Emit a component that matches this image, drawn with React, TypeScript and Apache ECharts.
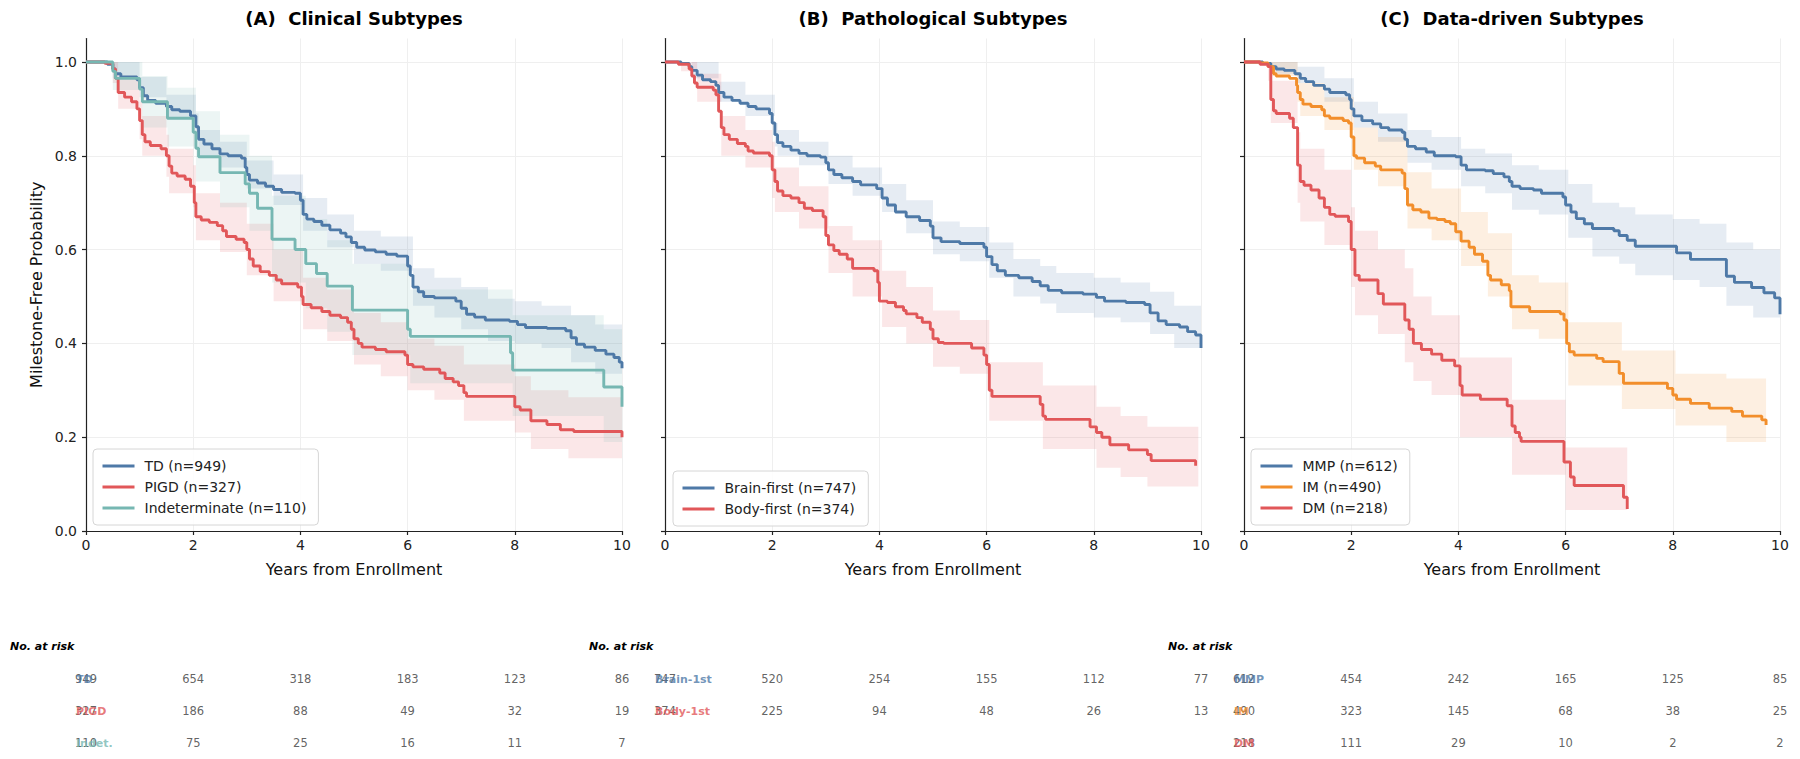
import React, { useEffect, useRef } from "react";
import * as echarts from "echarts";

const FONT = "'DejaVu Sans', 'Liberation Sans', sans-serif";
const BLUE = "#4e79a7";
const RED = "#e15759";
const TEAL = "#76b7b2";
const ORANGE = "#f28e2b";

const panelTitles = ["(A)  Clinical Subtypes", "(B)  Pathological Subtypes", "(C)  Data-driven Subtypes"];
const yTicks = [0, 0.2, 0.4, 0.6, 0.8, 1.0];
const riskTimes = [0, 2, 4, 6, 8, 10];

// ---- Panel A: clinical subtypes ----
const tdCurve = [[0,1],[0.4,0.995],[0.5,0.985],[0.55,0.975],[0.65,0.968],[0.95,0.962],[1.0,0.945],[1.07,0.928],[1.15,0.918],[1.3,0.912],[1.5,0.905],[1.6,0.898],[1.75,0.895],[1.95,0.885],[2.05,0.862],[2.1,0.835],[2.2,0.825],[2.35,0.815],[2.5,0.804],[2.65,0.8],[2.9,0.795],[2.97,0.775],[3.0,0.76],[3.05,0.748],[3.2,0.742],[3.35,0.735],[3.5,0.728],[3.65,0.722],[3.9,0.72],[4.0,0.705],[4.05,0.675],[4.12,0.665],[4.25,0.66],[4.4,0.652],[4.55,0.642],[4.75,0.635],[4.85,0.627],[4.95,0.615],[5.05,0.605],[5.2,0.599],[5.4,0.595],[5.6,0.59],[5.8,0.586],[6.0,0.565],[6.05,0.545],[6.1,0.52],[6.2,0.51],[6.3,0.5],[6.5,0.497],[6.9,0.49],[7.0,0.475],[7.1,0.462],[7.25,0.456],[7.45,0.45],[7.9,0.447],[8.05,0.44],[8.2,0.434],[8.6,0.432],[8.95,0.427],[9.05,0.412],[9.15,0.398],[9.3,0.392],[9.5,0.385],[9.7,0.377],[9.85,0.37],[9.95,0.36],[10,0.347]];
const tdCI = [[0,1,1],[0.5,0.965,1.0],[1.0,0.925,0.968],[1.5,0.878,0.93],[2.05,0.835,0.89],[2.1,0.8,0.855],[2.5,0.775,0.83],[3.0,0.73,0.79],[3.5,0.695,0.76],[4.05,0.64,0.71],[4.5,0.605,0.675],[5.0,0.57,0.64],[5.5,0.555,0.628],[6.1,0.48,0.56],[6.5,0.455,0.54],[7.0,0.43,0.52],[7.5,0.405,0.495],[8.0,0.4,0.49],[8.5,0.39,0.48],[9.05,0.36,0.46],[9.5,0.335,0.44],[10,0.3,0.41]];
const tdRisk = [949, 654, 318, 183, 123, 86];

const pigdCurve = [[0,1],[0.35,0.997],[0.5,0.985],[0.55,0.965],[0.6,0.935],[0.72,0.925],[0.85,0.915],[0.95,0.9],[1.0,0.875],[1.05,0.845],[1.1,0.83],[1.2,0.822],[1.4,0.815],[1.5,0.8],[1.55,0.778],[1.6,0.763],[1.7,0.757],[1.85,0.75],[1.95,0.735],[2.02,0.7],[2.05,0.67],[2.15,0.663],[2.3,0.658],[2.45,0.651],[2.55,0.64],[2.62,0.628],[2.8,0.622],[2.95,0.615],[3.0,0.6],[3.05,0.58],[3.12,0.565],[3.25,0.553],[3.42,0.545],[3.55,0.535],[3.65,0.527],[3.95,0.52],[4.02,0.5],[4.05,0.483],[4.2,0.476],[4.4,0.468],[4.55,0.46],[4.75,0.455],[4.88,0.445],[4.95,0.43],[5.0,0.41],[5.08,0.4],[5.15,0.392],[5.4,0.387],[5.6,0.382],[5.95,0.375],[6.0,0.355],[6.1,0.35],[6.3,0.345],[6.6,0.337],[6.7,0.325],[6.85,0.318],[6.95,0.31],[7.05,0.295],[7.1,0.287],[8.0,0.265],[8.1,0.258],[8.3,0.235],[8.6,0.227],[8.85,0.216],[9.1,0.212],[9.98,0.212],[10,0.2]];
const pigdCI = [[0,1,1],[0.5,0.955,1.0],[0.6,0.9,0.965],[1.0,0.835,0.915],[1.05,0.8,0.885],[1.5,0.755,0.845],[1.55,0.72,0.815],[2.0,0.69,0.78],[2.05,0.62,0.72],[2.5,0.595,0.7],[3.0,0.545,0.655],[3.5,0.49,0.6],[4.05,0.43,0.54],[4.5,0.405,0.515],[5.0,0.355,0.465],[5.5,0.33,0.445],[6.0,0.3,0.41],[6.5,0.28,0.395],[7.05,0.235,0.355],[8.0,0.21,0.33],[8.3,0.175,0.3],[9.0,0.155,0.285],[10,0.14,0.28]];
const pigdRisk = [327, 186, 88, 49, 32, 19];

const indetCurve = [[0,1],[0.5,0.98],[0.55,0.965],[1.0,0.942],[1.05,0.915],[1.52,0.88],[2.0,0.85],[2.05,0.816],[2.1,0.798],[2.5,0.764],[2.97,0.74],[3.05,0.72],[3.2,0.688],[3.47,0.622],[3.9,0.6],[4.1,0.57],[4.3,0.549],[4.5,0.522],[4.97,0.471],[6.0,0.43],[6.05,0.415],[7.92,0.38],[7.96,0.343],[9.66,0.307],[10,0.265]];
const indetCI = [[0,1,1],[0.5,0.94,1.0],[1.05,0.86,0.97],[1.52,0.82,0.945],[2.05,0.745,0.895],[2.5,0.69,0.845],[3.05,0.64,0.8],[3.47,0.53,0.715],[4.1,0.475,0.665],[4.5,0.425,0.62],[4.97,0.375,0.57],[6.05,0.315,0.515],[7.96,0.245,0.46],[9.66,0.19,0.43],[10,0.17,0.4]];
const indetRisk = [110, 75, 25, 16, 11, 7];

// ---- Panel B: pathological subtypes ----
const brainCurve = [[0,1],[0.3,0.997],[0.45,0.99],[0.5,0.982],[0.6,0.972],[0.7,0.962],[0.85,0.958],[0.95,0.95],[1.0,0.935],[1.1,0.925],[1.25,0.918],[1.4,0.912],[1.55,0.905],[1.7,0.9],[1.95,0.89],[2.0,0.87],[2.05,0.845],[2.1,0.828],[2.2,0.82],[2.35,0.812],[2.5,0.805],[2.65,0.8],[2.9,0.797],[3.0,0.785],[3.05,0.77],[3.15,0.76],[3.3,0.753],[3.5,0.745],[3.65,0.738],[3.95,0.73],[4.05,0.71],[4.15,0.695],[4.3,0.68],[4.5,0.67],[4.75,0.662],[4.95,0.65],[5.0,0.625],[5.15,0.617],[5.5,0.613],[5.95,0.605],[6.0,0.585],[6.1,0.568],[6.2,0.555],[6.35,0.545],[6.6,0.54],[6.85,0.532],[7.0,0.523],[7.15,0.513],[7.4,0.508],[7.8,0.505],[8.05,0.498],[8.2,0.49],[8.6,0.487],[8.95,0.483],[9.05,0.465],[9.2,0.448],[9.35,0.44],[9.6,0.435],[9.75,0.425],[9.9,0.418],[10,0.39]];
const brainCI = [[0,1,1],[0.5,0.965,1.0],[1.0,0.915,0.958],[1.5,0.885,0.93],[2.05,0.82,0.87],[2.1,0.8,0.855],[2.5,0.78,0.83],[3.05,0.74,0.8],[3.5,0.715,0.775],[4.05,0.68,0.74],[4.5,0.635,0.705],[5.0,0.59,0.66],[5.5,0.575,0.648],[6.05,0.54,0.615],[6.5,0.5,0.58],[7.0,0.485,0.565],[7.3,0.465,0.55],[8.0,0.455,0.54],[8.5,0.445,0.53],[9.05,0.42,0.51],[9.5,0.39,0.48],[10,0.33,0.46]];
const brainRisk = [747, 520, 254, 155, 112, 77];

const bodyCurve = [[0,1],[0.25,0.995],[0.45,0.985],[0.5,0.97],[0.55,0.955],[0.6,0.946],[0.9,0.94],[0.95,0.93],[1.0,0.895],[1.05,0.86],[1.1,0.845],[1.2,0.835],[1.35,0.826],[1.5,0.82],[1.55,0.81],[1.65,0.806],[1.95,0.8],[2.0,0.77],[2.05,0.745],[2.1,0.725],[2.2,0.715],[2.35,0.71],[2.5,0.7],[2.6,0.688],[2.75,0.683],[2.95,0.67],[3.0,0.63],[3.05,0.61],[3.15,0.598],[3.25,0.59],[3.4,0.58],[3.5,0.56],[3.9,0.555],[3.97,0.53],[4.0,0.49],[4.15,0.487],[4.3,0.478],[4.45,0.47],[4.5,0.463],[4.7,0.455],[4.8,0.445],[4.95,0.43],[5.0,0.41],[5.1,0.402],[5.2,0.4],[5.72,0.39],[5.95,0.375],[6.0,0.355],[6.05,0.3],[6.1,0.287],[7.0,0.27],[7.05,0.245],[7.1,0.238],[7.93,0.222],[8.05,0.21],[8.15,0.2],[8.3,0.184],[8.65,0.173],[9.0,0.163],[9.07,0.15],[9.9,0.139]];
const bodyCI = [[0,1,1],[0.3,0.98,1.0],[0.6,0.915,0.975],[1.05,0.8,0.885],[1.5,0.775,0.855],[2.0,0.71,0.83],[2.05,0.68,0.775],[2.5,0.645,0.735],[3.05,0.55,0.65],[3.5,0.5,0.62],[4.05,0.435,0.555],[4.5,0.4,0.52],[5.0,0.35,0.47],[5.5,0.335,0.45],[6.05,0.235,0.36],[7.05,0.175,0.31],[8.05,0.135,0.265],[8.5,0.115,0.245],[9.0,0.095,0.222],[9.95,0.09,0.22]];
const bodyRisk = [374, 225, 94, 48, 26, 13];

// ---- Panel C: data-driven subtypes ----
const mmpCurve = [[0,1],[0.35,0.997],[0.5,0.99],[0.6,0.985],[0.75,0.982],[0.95,0.975],[1.05,0.965],[1.15,0.958],[1.3,0.95],[1.5,0.942],[1.6,0.935],[1.9,0.93],[1.97,0.92],[2.0,0.9],[2.05,0.885],[2.2,0.875],[2.4,0.868],[2.55,0.86],[2.7,0.855],[2.95,0.85],[3.0,0.835],[3.05,0.82],[3.2,0.815],[3.4,0.808],[3.55,0.8],[3.95,0.798],[4.05,0.78],[4.15,0.77],[4.5,0.768],[4.65,0.762],[4.85,0.755],[4.95,0.745],[5.0,0.735],[5.15,0.73],[5.4,0.727],[5.55,0.72],[5.95,0.712],[6.0,0.695],[6.1,0.68],[6.2,0.666],[6.35,0.655],[6.5,0.645],[6.9,0.64],[7.0,0.63],[7.15,0.62],[7.3,0.607],[8.07,0.593],[8.33,0.579],[9.0,0.543],[9.15,0.53],[9.47,0.519],[9.7,0.508],[9.9,0.497],[10,0.462]];
const mmpCI = [[0,1,1],[0.5,0.975,1.0],[1.0,0.955,0.99],[1.5,0.915,0.965],[2.05,0.86,0.915],[2.5,0.83,0.89],[3.05,0.785,0.855],[3.5,0.77,0.84],[4.05,0.735,0.815],[4.5,0.72,0.805],[5.0,0.685,0.78],[5.5,0.675,0.77],[6.05,0.625,0.74],[6.5,0.585,0.7],[7.0,0.57,0.69],[7.3,0.545,0.675],[8.0,0.535,0.665],[8.5,0.52,0.655],[9.0,0.48,0.615],[9.5,0.455,0.6],[10,0.41,0.575]];
const mmpRisk = [612, 454, 242, 165, 125, 85];

const imCurve = [[0,1],[0.3,0.998],[0.45,0.99],[0.55,0.975],[0.6,0.97],[0.85,0.965],[0.98,0.95],[1.0,0.935],[1.05,0.92],[1.1,0.91],[1.25,0.905],[1.45,0.898],[1.5,0.885],[1.6,0.88],[1.85,0.875],[1.95,0.87],[2.0,0.84],[2.05,0.8],[2.1,0.795],[2.25,0.785],[2.45,0.778],[2.55,0.77],[2.95,0.763],[3.0,0.73],[3.05,0.695],[3.15,0.685],[3.3,0.68],[3.45,0.667],[3.6,0.664],[3.75,0.66],[3.85,0.655],[3.95,0.638],[4.05,0.618],[4.2,0.605],[4.3,0.59],[4.45,0.575],[4.55,0.545],[4.6,0.535],[4.8,0.525],[4.95,0.512],[4.98,0.478],[5.33,0.468],[5.9,0.463],[5.97,0.45],[6.02,0.4],[6.07,0.382],[6.16,0.375],[6.58,0.368],[6.7,0.361],[7.0,0.336],[7.08,0.315],[7.9,0.304],[8.0,0.29],[8.07,0.281],[8.33,0.272],[8.68,0.262],[9.1,0.255],[9.3,0.245],[9.66,0.237],[9.74,0.226]];
const imCI = [[0,1,1],[0.5,0.97,1.0],[1.0,0.915,0.975],[1.05,0.885,0.955],[1.5,0.855,0.925],[2.05,0.77,0.86],[2.5,0.735,0.84],[3.05,0.645,0.765],[3.5,0.62,0.73],[4.05,0.565,0.68],[4.55,0.5,0.635],[5.0,0.43,0.545],[5.5,0.41,0.53],[6.05,0.31,0.445],[7.05,0.26,0.385],[8.05,0.225,0.335],[9.0,0.19,0.325],[9.74,0.165,0.31]];
const imRisk = [490, 323, 145, 68, 38, 25];

const dmCurve = [[0,1],[0.3,0.995],[0.45,0.99],[0.5,0.92],[0.55,0.896],[0.6,0.89],[0.85,0.88],[0.92,0.86],[1.0,0.78],[1.05,0.745],[1.12,0.737],[1.25,0.727],[1.4,0.71],[1.5,0.69],[1.6,0.675],[1.7,0.671],[1.95,0.66],[2.0,0.6],[2.07,0.545],[2.15,0.535],[2.5,0.506],[2.6,0.484],[3.0,0.45],[3.08,0.43],[3.16,0.4],[3.31,0.387],[3.5,0.377],[3.69,0.364],[3.93,0.352],[4.03,0.31],[4.07,0.29],[4.41,0.281],[4.91,0.267],[5.0,0.224],[5.06,0.21],[5.14,0.2],[5.17,0.191],[5.97,0.147],[6.09,0.115],[6.16,0.097],[7.08,0.072],[7.15,0.047]];
const dmCI = [[0,1,1],[0.45,0.96,1.0],[0.5,0.87,0.96],[1.0,0.7,0.85],[1.05,0.66,0.815],[1.5,0.61,0.77],[2.0,0.52,0.69],[2.07,0.46,0.64],[2.5,0.42,0.6],[3.0,0.36,0.56],[3.16,0.32,0.5],[3.5,0.29,0.46],[4.03,0.2,0.37],[5.0,0.12,0.28],[6.0,0.045,0.178],[7.15,0.026,0.155]];
const dmRisk = [218, 111, 29, 10, 2, 2];

const panels = [
  {
    title: panelTitles[0],
    groups: [
      { name: "TD (n=949)", short: "TD", color: BLUE, curve: tdCurve, ci: tdCI, risk: tdRisk },
      { name: "PIGD (n=327)", short: "PIGD", color: RED, curve: pigdCurve, ci: pigdCI, risk: pigdRisk },
      { name: "Indeterminate (n=110)", short: "Indet.", color: TEAL, curve: indetCurve, ci: indetCI, risk: indetRisk },
    ],
  },
  {
    title: panelTitles[1],
    groups: [
      { name: "Brain-first (n=747)", short: "Brain-1st", color: BLUE, curve: brainCurve, ci: brainCI, risk: brainRisk },
      { name: "Body-first (n=374)", short: "Body-1st", color: RED, curve: bodyCurve, ci: bodyCI, risk: bodyRisk },
    ],
  },
  {
    title: panelTitles[2],
    groups: [
      { name: "MMP (n=612)", short: "MMP", color: BLUE, curve: mmpCurve, ci: mmpCI, risk: mmpRisk },
      { name: "IM (n=490)", short: "IM", color: ORANGE, curve: imCurve, ci: imCI, risk: imRisk },
      { name: "DM (n=218)", short: "DM", color: RED, curve: dmCurve, ci: dmCI, risk: dmRisk },
    ],
  },
];

// layout
const PANEL_LEFT = [86, 665, 1244];
const PANEL_W = 536;
const PLOT_TOP = 38.5;
const PLOT_H = 492.5;
const RISK_TOP = 663;
const RISK_H = 96;
const LEGEND_POS = [
  { left: 93, top: 449 },
  { left: 673, top: 471 },
  { left: 1251, top: 449 },
];

function rgba(hex: string, a: number) {
  const n = parseInt(hex.slice(1), 16);
  return `rgba(${(n >> 16) & 255},${(n >> 8) & 255},${n & 255},${a})`;
}

function bandRenderer(ci: number[][], color: string) {
  return (params: any, api: any) => {
    if (params.dataIndex !== 0) return null;
    const pts: number[][] = [];
    for (let i = 0; i < ci.length; i++) {
      pts.push(api.coord([ci[i][0], ci[i][2]]));
      if (i < ci.length - 1) pts.push(api.coord([ci[i + 1][0], ci[i][2]]));
    }
    for (let i = ci.length - 1; i >= 0; i--) {
      if (i < ci.length - 1) pts.push(api.coord([ci[i + 1][0], ci[i][1]]));
      pts.push(api.coord([ci[i][0], ci[i][1]]));
    }
    return {
      type: "polygon",
      shape: { points: pts },
      style: { fill: rgba(color, 0.14), stroke: "none" },
      silent: true,
    };
  };
}

function buildOption() {
  const grid: any[] = [];
  const xAxis: any[] = [];
  const yAxis: any[] = [];
  const series: any[] = [];
  const legend: any[] = [];
  const graphic: any[] = [];
  const axisColor = "#222";

  panels.forEach((panel, p) => {
    const pi = grid.length;
    grid.push({ left: PANEL_LEFT[p], top: PLOT_TOP, width: PANEL_W, height: PLOT_H, containLabel: false });
    xAxis.push({
      type: "value",
      gridIndex: pi,
      min: 0,
      max: 10,
      interval: 2,
      name: "Years from Enrollment",
      nameLocation: "middle",
      nameGap: 30,
      nameTextStyle: { fontSize: 16, fontFamily: FONT, color: "#111" },
      axisLine: { show: true, lineStyle: { color: axisColor, width: 1.2 } },
      axisTick: { show: true, length: 4, lineStyle: { color: axisColor, width: 1.2 } },
      axisLabel: { fontSize: 14, fontFamily: FONT, color: axisColor, margin: 7 },
      splitLine: { show: true, lineStyle: { color: "#efefef", width: 1 } },
    });
    yAxis.push({
      type: "value",
      gridIndex: pi,
      min: 0,
      max: 1.05,
      interval: 0.2,
      name: p === 0 ? "Milestone-Free Probability" : "",
      nameLocation: "middle",
      nameGap: 42,
      nameTextStyle: { fontSize: 16, fontFamily: FONT, color: "#111" },
      axisLine: { show: true, lineStyle: { color: axisColor, width: 1.2 } },
      axisTick: { show: true, length: 4, lineStyle: { color: axisColor, width: 1.2 }, customValues: yTicks },
      axisLabel: {
        show: p === 0,
        customValues: yTicks,
        fontSize: 14,
        fontFamily: FONT,
        color: axisColor,
        margin: 9,
        formatter: (v: number) => (Math.abs(v * 5 - Math.round(v * 5)) < 1e-6 ? v.toFixed(1) : ""),
      },
      splitLine: { show: true, lineStyle: { color: "#efefef", width: 1 } },
    });

    // risk table grid
    const ri = grid.length;
    grid.push({ left: PANEL_LEFT[p], top: RISK_TOP, width: PANEL_W, height: RISK_H });
    xAxis.push({ type: "value", gridIndex: ri, min: 0, max: 10, show: false });
    yAxis.push({ type: "category", gridIndex: ri, data: ["0", "1", "2"], inverse: true, show: false });

    panel.groups.forEach((g) => {
      series.push({
        type: "custom",
        xAxisIndex: pi,
        yAxisIndex: pi,
        data: g.ci,
        encode: { x: 0, y: [1, 2] },
        renderItem: bandRenderer(g.ci, g.color),
        silent: true,
        z: 1,
      });
    });
    panel.groups.forEach((g) => {
      series.push({
        type: "line",
        name: g.name,
        xAxisIndex: pi,
        yAxisIndex: pi,
        data: g.curve,
        step: "end",
        symbol: "none",
        showSymbol: false,
        lineStyle: { color: g.color, width: 2.9 },
        itemStyle: { color: g.color },
        emphasis: { disabled: true },
        z: 3,
      });
    });

    legend.push({
      orient: "vertical",
      left: LEGEND_POS[p].left,
      top: LEGEND_POS[p].top,
      data: panel.groups.map((g) => g.name),
      itemWidth: 32,
      itemHeight: 14,
      itemGap: 7,
      padding: [10, 12, 10, 8],
      backgroundColor: "rgba(255,255,255,0.85)",
      borderColor: "#d6d6d6",
      borderWidth: 1,
      borderRadius: 4,
      selectedMode: false,
      itemStyle: { opacity: 0 },
      lineStyle: { width: 3 },
      textStyle: { fontSize: 14, fontFamily: FONT, color: "#222", padding: [0, 0, 0, 5] },
    });

    panel.groups.forEach((g, r) => {
      series.push({
        type: "scatter",
        xAxisIndex: ri,
        yAxisIndex: ri,
        symbolSize: 1,
        itemStyle: { color: "transparent" },
        silent: true,
        data: g.risk.map((v, k) => [riskTimes[k], r, v]),
        label: {
          show: true,
          position: "inside",
          formatter: (pp: any) => String(pp.value[2]),
          fontSize: 11.5,
          fontFamily: FONT,
          color: "#3a3a3a",
        },
        z: 2,
      });
    });
    panel.groups.forEach((g, r) => {
      series.push({
        type: "scatter",
        xAxisIndex: ri,
        yAxisIndex: ri,
        symbolSize: 1,
        itemStyle: { color: "transparent" },
        silent: true,
        data: [[riskTimes[0], r, g.short]],
        label: {
          show: true,
          position: "inside",
          align: "left",
          offset: [-10, 0],
          formatter: (pp: any) => String(pp.value[2]),
          fontSize: 11,
          fontWeight: "bold",
          fontFamily: FONT,
          color: g.color,
        },
        z: 3,
      });
    });

    graphic.push({
      type: "text",
      x: PANEL_LEFT[p] + PANEL_W / 2,
      y: 18,
      style: {
        text: panel.title,
        fontSize: 18,
        fontWeight: "bold",
        fontFamily: FONT,
        fill: "#000",
        textAlign: "center",
        textVerticalAlign: "middle",
        align: "center",
        verticalAlign: "middle",
      },
    });
    graphic.push({
      type: "text",
      x: PANEL_LEFT[p] - 76,
      y: 646,
      style: {
        text: "No. at risk",
        fontSize: 11,
        fontWeight: "bold",
        fontStyle: "italic",
        fontFamily: FONT,
        fill: "#000",
        textAlign: "left",
        textVerticalAlign: "middle",
        align: "left",
        verticalAlign: "middle",
      },
    });
  });

  return {
    animation: false,
    backgroundColor: "#ffffff",
    grid,
    xAxis,
    yAxis,
    legend,
    series,
    graphic,
  };
}

export default function App() {
  const ref = useRef<HTMLDivElement>(null);
  useEffect(() => {
    if (!ref.current) return;
    const chart = echarts.init(ref.current, null, { renderer: "svg" });
    chart.setOption(buildOption() as any);
    return () => chart.dispose();
  }, []);
  return (
    <div
      ref={ref}
      style={{ position: "fixed", left: 0, top: 0, width: 1800, height: 759, background: "#fff" }}
    />
  );
}
